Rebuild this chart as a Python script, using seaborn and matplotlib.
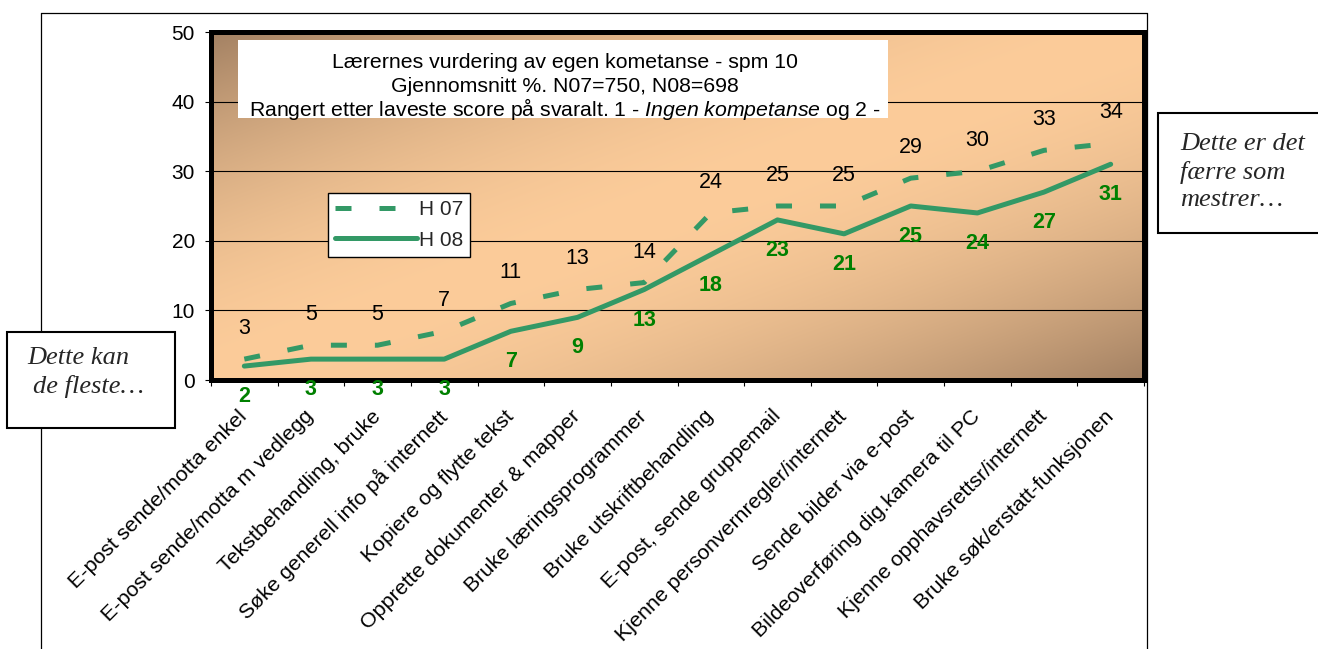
import numpy as np
import matplotlib
matplotlib.use("Agg")
import matplotlib.pyplot as plt
import seaborn as sns
from matplotlib.patches import Rectangle
from matplotlib.lines import Line2D

# ---------------- data ----------------
categories = [
    "E-post sende/motta enkel",
    "E-post sende/motta m vedlegg",
    "Tekstbehandling, bruke",
    "Søke generell info på internett",
    "Kopiere og flytte tekst",
    "Opprette dokumenter & mapper",
    "Bruke læringsprogrammer",
    "Bruke utskriftbehandling",
    "E-post, sende gruppemail",
    "Kjenne personvernregler/internett",
    "Sende bilder via e-post",
    "Bildeoverføring dig.kamera til PC",
    "Kjenne opphavsrettsr/internett",
    "Bruke søk/erstatt-funksjonen",
]
h07 = [3, 5, 5, 7, 11, 13, 14, 24, 25, 25, 29, 30, 33, 34]
h08 = [2, 3, 3, 3, 7, 9, 13, 18, 23, 21, 25, 24, 27, 31]
series_labels = ["H 07", "H 08"]
yticks = [0, 10, 20, 30, 40, 50]
title_lines = [
    "Lærernes vurdering av egen kometanse - spm 10",
    "Gjennomsnitt %. N07=750, N08=698",
    r"Rangert etter laveste score på svaralt. 1 - $\mathit{Ingen\ kompetanse}$ og 2 -",
]
left_note_lines = ["Dette kan", "de fleste…"]
right_note = "Dette er det\nfærre som\nmestrer…"

# ---------------- style ----------------
sns.set_theme(style="white")
plt.rcParams["font.family"] = ["Liberation Sans", "DejaVu Sans"]
plt.rcParams["mathtext.fontset"] = "custom"
plt.rcParams["mathtext.rm"] = "Liberation Sans"
plt.rcParams["mathtext.it"] = "Liberation Sans:italic"

W, H = 1318, 649
fig = plt.figure(figsize=(W / 100, H / 100), dpi=100)
fig.patch.set_facecolor("white")


def fx(px):
    return px / W


def fy(py):
    return 1 - py / H


ax = fig.add_axes([fx(211), fy(380), fx(1144) - fx(211), fy(32) - fy(380)])

n = len(categories)
xpos = np.arange(n)
green = "#339966"
label_green = "#008000"

# gradient background (diagonal: dark -> light -> dark)
gh, gw = 200, 400
vv, uu = np.mgrid[0:1:gh * 1j, 0:1:gw * 1j]
t = (uu + vv) / 2
f = 1 - np.abs(2 * t - 1) ** 1.8
dark = np.array([163, 129, 99]) / 255
light = np.array([252, 204, 154]) / 255
img = dark[None, None, :] + (light - dark)[None, None, :] * f[..., None]
ax.imshow(img, extent=(-0.5, n - 0.5, 0, 50), aspect="auto", zorder=0,
          interpolation="bilinear")

# lines
px2pt = 72 / 100
lw = 5 * px2pt
sns.lineplot(x=xpos, y=h07, ax=ax, color=green, linewidth=lw,
             linestyle=(0, (3.2, 5.6)), dash_capstyle="butt",
             label=series_labels[0], zorder=4, sort=False)
sns.lineplot(x=xpos, y=h08, ax=ax, color=green, linewidth=lw,
             solid_capstyle="round", label=series_labels[1], zorder=4, sort=False)

ax.set_xlim(-0.5, n - 0.5)
ax.set_ylim(0, 50)

# data labels
for i, v in enumerate(h07):
    ax.annotate(str(v), (xpos[i], v), xytext=(0, 22), textcoords="offset points",
                ha="center", va="center", fontsize=15.5, color="black", zorder=5)
for i, v in enumerate(h08):
    ax.annotate(str(v), (xpos[i], v), xytext=(0, -22), textcoords="offset points",
                ha="center", va="center", fontsize=15.5, color=label_green,
                fontweight="bold", zorder=5)

# grid
ax.set_axisbelow(True)
ax.yaxis.grid(True, color="black", linewidth=0.8)
ax.xaxis.grid(False)

# axes ticks
ax.set_yticks(yticks)
ax.set_yticklabels([str(v) for v in yticks])
ax.tick_params(axis="y", which="major", left=True, length=4.5, width=0.8,
               direction="out", labelsize=15, pad=7, colors="black")
ax.set_xticks(xpos)
ax.set_xticklabels(categories, rotation=45, ha="right", va="center",
                   rotation_mode="anchor", fontsize=15.4)
ax.tick_params(axis="x", which="major", length=0, pad=24, labelcolor="black")
ax.set_xticks(np.arange(n + 1) - 0.5, minor=True)
ax.tick_params(axis="x", which="minor", bottom=True, length=4.5, width=0.8,
               direction="out", color="black")

for s in ax.spines.values():
    s.set_visible(True)
    s.set_color("black")
    s.set_linewidth(lw)

# legend
leg = ax.legend(loc="upper left", bbox_to_anchor=(fx(328), fy(193)),
                bbox_transform=fig.transFigure, frameon=True, fancybox=False,
                edgecolor="black", framealpha=1, fontsize=15, handlelength=3.9,
                borderpad=0.35, labelspacing=0.55, handletextpad=0.1,
                borderaxespad=0)
leg.get_frame().set_linewidth(1.0)
leg.set_zorder(6)

# title box inside plot
ax.add_patch(Rectangle((fx(238), fy(118)), fx(888) - fx(238), (118 - 40) / H,
                       transform=fig.transFigure, facecolor="white",
                       edgecolor="none", zorder=2))
for line, yp in zip(title_lines, [63, 86, 109]):
    fig.text(fx(565), fy(yp), line, ha="center", va="center", fontsize=15.3,
             color="black", zorder=7)

# outer frame lines
for xs, ys in [([41, 41], [13, H]), ([41, 1147], [13, 13]), ([1147, 1147], [13, H])]:
    fig.add_artist(Line2D([fx(x) for x in xs], [fy(y) for y in ys],
                          transform=fig.transFigure, color="black", linewidth=0.9,
                          zorder=1))

# note boxes
fig.add_artist(Rectangle((fx(7), fy(428)), fx(175) - fx(7), (428 - 332) / H,
                         transform=fig.transFigure, facecolor="white",
                         edgecolor="black", linewidth=1.5, zorder=8))
for line, xp, yp in zip(left_note_lines, [27, 33], [358, 386]):
    fig.text(fx(xp), fy(yp), line, ha="left", va="center", fontsize=19,
             family="Liberation Serif", style="italic", zorder=9)
fig.add_artist(Rectangle((fx(1158), fy(233)), fx(1330) - fx(1158), (233 - 113) / H,
                         transform=fig.transFigure, facecolor="white",
                         edgecolor="black", linewidth=1.5, zorder=8))
fig.text(fx(1180), fy(172), right_note, ha="left", va="center",
         multialignment="left", fontsize=19, family="Liberation Serif",
         style="italic", zorder=9, linespacing=1.3)

fig.savefig("out.png", dpi=100)
